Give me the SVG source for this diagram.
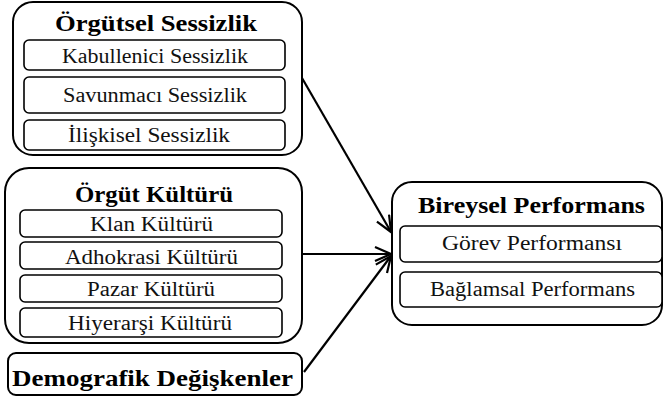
<svg xmlns="http://www.w3.org/2000/svg" width="664" height="399" viewBox="0 0 664 399">
<style>
.outer{fill:#fff;stroke:#000;stroke-width:2}
.inner{fill:#fff;stroke:#000;stroke-width:1.6}
.t{font-family:"Liberation Serif",serif;font-weight:bold;font-size:23px;text-anchor:middle;fill:#000}
.s{font-family:"Liberation Serif",serif;font-size:20px;text-anchor:middle;fill:#111}
.c{fill:none;stroke:#000;stroke-width:2.2}
</style>
<defs>
<marker id="ah" markerWidth="20" markerHeight="20" refX="17" refY="8" orient="auto" markerUnits="userSpaceOnUse">
<path d="M1,1 L17,8 L1,15" fill="none" stroke="#000" stroke-width="2.2"/>
</marker>
</defs>
<g id="connectors">
<line class="c" x1="302" y1="78" x2="391" y2="232" marker-end="url(#ah)"/>
<line class="c" x1="302" y1="254" x2="391" y2="254" marker-end="url(#ah)"/>
<line class="c" x1="304" y1="372" x2="391" y2="256" marker-end="url(#ah)"/>
</g>
<g id="orgutsel-sessizlik">
<rect class="outer" x="13" y="2" width="289" height="153" rx="20"/>
<text class="t" x="156" y="31" textLength="202" lengthAdjust="spacingAndGlyphs">Örgütsel Sessizlik</text>
<rect class="inner" x="24" y="40" width="261" height="30" rx="5"/>
<text class="s" x="155" y="63" textLength="186" lengthAdjust="spacingAndGlyphs">Kabullenici Sessizlik</text>
<rect class="inner" x="24" y="77" width="261" height="36" rx="5"/>
<text class="s" x="155" y="102" textLength="184" lengthAdjust="spacingAndGlyphs">Savunmacı Sessizlik</text>
<rect class="inner" x="24" y="120" width="261" height="30" rx="5"/>
<text class="s" x="149" y="142" textLength="162" lengthAdjust="spacingAndGlyphs">İlişkisel Sessizlik</text>
</g>
<g id="orgut-kulturu">
<rect class="outer" x="5" y="168" width="297" height="175" rx="24"/>
<text class="t" x="154" y="202" textLength="158" lengthAdjust="spacingAndGlyphs">Örgüt Kültürü</text>
<rect class="inner" x="20" y="210" width="262" height="27" rx="5"/>
<text class="s" x="151.5" y="231" textLength="123" lengthAdjust="spacingAndGlyphs">Klan Kültürü</text>
<rect class="inner" x="20" y="242" width="262" height="27" rx="5"/>
<text class="s" x="151.5" y="264" textLength="173" lengthAdjust="spacingAndGlyphs">Adhokrasi Kültürü</text>
<rect class="inner" x="20" y="275" width="262" height="27" rx="5"/>
<text class="s" x="151" y="296" textLength="128" lengthAdjust="spacingAndGlyphs">Pazar Kültürü</text>
<rect class="inner" x="20" y="308" width="262" height="29" rx="5"/>
<text class="s" x="150" y="330" textLength="164" lengthAdjust="spacingAndGlyphs">Hiyerarşi Kültürü</text>
</g>
<g id="demografik">
<rect class="outer" x="8" y="353" width="294" height="42" rx="8"/>
<text class="t" x="152.5" y="386" textLength="281" lengthAdjust="spacingAndGlyphs">Demografik Değişkenler</text>
</g>
<g id="bireysel-performans">
<rect class="outer" x="392" y="182" width="270" height="143" rx="20"/>
<text class="t" x="531.5" y="213" textLength="227" lengthAdjust="spacingAndGlyphs">Bireysel Performans</text>
<rect class="inner" x="400" y="226" width="262" height="36" rx="5"/>
<text class="s" x="532" y="250" textLength="180" lengthAdjust="spacingAndGlyphs">Görev Performansı</text>
<rect class="inner" x="400" y="272" width="262" height="35" rx="5"/>
<text class="s" x="532.5" y="296" textLength="205" lengthAdjust="spacingAndGlyphs">Bağlamsal Performans</text>
</g>
</svg>
